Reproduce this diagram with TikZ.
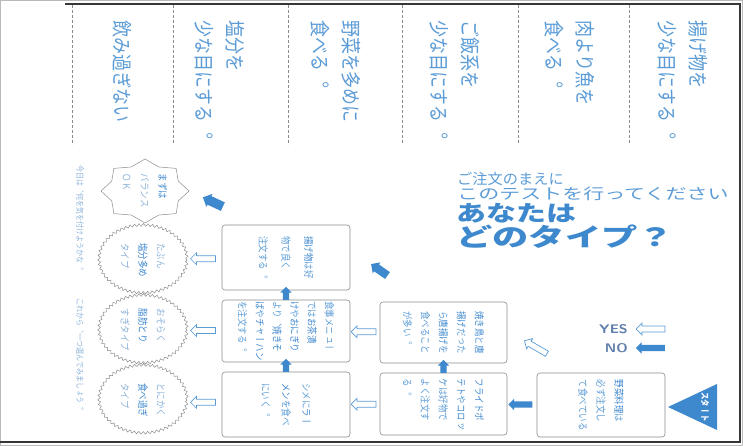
\documentclass[tikz,border=0pt]{standalone}
\usepackage{fontspec}
\usepackage{graphicx}
\usetikzlibrary{shapes.geometric,shapes.arrows,decorations.pathmorphing,calc}
\newfontfamily\cjk{Noto Sans CJK JP}
\newfontfamily\tate[Vertical=RotatedGlyphs]{Noto Sans CJK JP}
\definecolor{tblue}{RGB}{92,156,214}
\definecolor{dblue}{RGB}{62,136,206}
\definecolor{pblue}{RGB}{140,178,218}
\definecolor{lgray}{RGB}{140,140,140}
\definecolor{fgray}{RGB}{55,55,55}
\definecolor{legendc}{RGB}{95,125,170}
\begin{document}
\begin{tikzpicture}[x=1pt,y=-1pt,
  vbase/.style={rotate=-90,yscale=1.2,align=left,inner sep=0pt},
  vhead/.style={vbase,anchor=west,text=tblue,font=\tate\fontsize{17}{26}\selectfont},
  vbox/.style={vbase,text=tblue,font=\tate\fontsize{8.5}{#1}\selectfont},
  vbox/.default=15,
  vcirc/.style={vbase,text=pblue,font=\tate\fontsize{8.5}{15}\selectfont},
  vside/.style={vbase,anchor=west,text=pblue,font=\tate\fontsize{7}{7}\selectfont},
  ttl/.style={anchor=west,inner sep=0pt,xscale=#1},
  fbox/.style={draw=lgray,line width=0.6pt,rounded corners=3pt,minimum width=#1,inner sep=0pt},
  wavy/.style={ellipse,draw=lgray,line width=0.5pt,minimum width=88pt,minimum height=68pt,inner sep=0pt,
    decorate,decoration={snake,segment length=4.5pt,amplitude=1.3pt}},
  harrow/.style={single arrow,draw=tblue,fill=white,line width=0.7pt,minimum height=#1,
    inner xsep=0pt,inner ysep=2.6pt,single arrow head extend=3pt},
  farrow/.style={single arrow,fill=dblue,draw=none,minimum height=#1,
    inner xsep=0pt,inner ysep=3pt,single arrow head extend=2.5pt},
  divider/.style={lgray,densely dashed,line width=0.4pt}
]
\useasboundingbox (0,0) rectangle (743,446);
% frame
\draw[lgray!60,line width=0.5pt] (0.5,0.5) rectangle (742.5,445.5);
\draw[fgray,line width=1.4pt] (65,4) -- (740,4) -- (740,442) -- (0,442);
% header dividers
\foreach \x in {72,173,288,402,518,629} \draw[divider] (\x,5) -- (\x,145);
% header texts
\node[vhead] (h1) at (683,20) {揚げ物を\\少な目にする。};
\node[vhead] (h2) at (570,20) {肉より魚を\\食べる。};
\node[vhead] (h3) at (455,20) {ご飯系を\\少な目にする。};
\node[vhead] (h4) at (336,20) {野菜を多めに\\食べる。};
\node[vhead] (h5) at (220,20) {塩分を\\少な目にする。};
\node[vhead] (h6) at (122,20) {飲み過ぎない};
% side text
\node[vside] (s1) at (80,165) {今日は、何を気を付けようかな。};
\node[vside] (s2) at (80,298) {これから、一つ選んでみましょう。};
% title
\node[ttl=1.05,text=tblue,font=\cjk\fontsize{14.5}{14.5}\selectfont] (t1) at (457,179) {ご注文のまえに};
\node[ttl=1.4,text=tblue,font=\cjk\fontsize{15}{15}\selectfont] (t2) at (457,194) {このテストを行ってください};
\node[ttl=1.36,text=dblue,font=\cjk\bfseries\fontsize{22}{22}\selectfont] (t3) at (456,213) {あなたは};
\node[ttl=1.45,text=dblue,font=\cjk\bfseries\fontsize{25}{25}\selectfont] (t4) at (456,237) {どのタイプ？};
% star
\coordinate (sc) at (145,191);
\draw[lgray,line width=0.5pt] ($(sc)+(0:44 and 32)$)
  \foreach \i in {1,...,15}{ -- ($(sc)+({\i*22.5}:{mod(\i,2)==0 ? 44 : 36} and {mod(\i,2)==0 ? 32 : 26})$) } -- cycle;
\node[vcirc] (st) at (sc) {{\color{dblue}まずは}\\バランス\\ＯＫ};
% wavy circles
\node[wavy] (c1) at (143,260) {};
\node[wavy] (c2) at (143,330) {};
\node[wavy] (c3) at (143,400) {};
\node[vcirc] at (c1) {たぶん\\{\color{dblue}塩分多め}\\タイプ};
\node[vcirc] at (c2) {おそらく\\{\color{dblue}脂肪とり}\\すぎタイプ};
\node[vcirc] at (c3) {とにかく\\{\color{dblue}食べ過ぎ}\\タイプ};
% boxes
\node[fbox=128pt,minimum height=65pt] (A) at (286,257.5) {};
\node[fbox=128pt,minimum height=62pt] (B) at (286,331) {};
\node[fbox=128pt,minimum height=65pt] (C) at (286,404.5) {};
\node[fbox=127pt,minimum height=61pt] (D) at (443.5,332.5) {};
\node[fbox=127pt,minimum height=62pt] (E) at (443.5,404) {};
\node[fbox=128pt,minimum height=64pt] (F) at (601,405) {};
\node[vbox=19] at (A) {{\color{dblue}揚げ物}は好\\物で良く\\注文する。};
\node[vbox=14.5] at (B) {食事メニュー\\では{\color{dblue}お茶漬}\\{\color{dblue}け}や{\color{dblue}おにぎり}\\より、{\color{dblue}焼きそ}\\{\color{dblue}ば}や{\color{dblue}チャーハン}\\を注文する。};
\node[vbox=17] at (C) {シメに{\color{dblue}ラー}\\{\color{dblue}メン}を食べ\\にいく。};
\node[vbox=15] at (D) {{\color{dblue}焼き鳥}と{\color{dblue}唐}\\{\color{dblue}揚げ}だった\\ら{\color{dblue}唐揚げ}を\\食べること\\が多い。};
\node[vbox=15] at (E) {{\color{dblue}フライドポ}\\{\color{dblue}テト}や{\color{dblue}コロッ}\\{\color{dblue}ケ}は好物で\\よく注文す\\る。};
\node[vbox=15] at (F) {{\color{dblue}野菜料理}は\\必ず注文し\\て食べている};
% start
\fill[dblue] (668,407) -- (717,384) -- (717,430) -- cycle;
\node[vbase,text=white,font=\tate\bfseries\fontsize{7.5}{7.5}\selectfont] (start) at (705,407) {スタート};
% hollow (YES) arrows
\node[harrow=25pt,rotate=180] (y1) at ($(c1.east)!0.5!(A.west)$) {};
\node[harrow=25pt,rotate=180] (y2) at ($(c2.east)!0.5!(B.west)$) {};
\node[harrow=25pt,rotate=180] (y3) at ($(c3.east)!0.5!(C.west)$) {};
\node[harrow=25pt,rotate=180] (y4) at ($(B.east)!0.5!(D.west)$) {};
\node[harrow=25pt,rotate=180] (y5) at ($(C.east)!0.5!(E.west)$) {};
\node[harrow=26pt,rotate=150] (y6) at (537,348) {};
% filled (NO) arrows
\node[farrow=13pt,rotate=90] (n1) at ($(B.north)!0.5!(A.south)$) {};
\node[farrow=13pt,rotate=90] (n2) at ($(C.north)!0.5!(B.south)$) {};
\node[farrow=13pt,rotate=90] (n3) at ($(E.north)!0.5!(D.south)$) {};
\node[farrow=24pt,rotate=180] (n4) at ($(E.east)!0.5!(F.west)$) {};
\node[farrow=22pt,inner ysep=4.5pt,rotate=155] (n5) at (215,203) {};
\node[farrow=20pt,inner ysep=4pt,rotate=145] (n6) at (381,271) {};
% legend
\node[anchor=east,inner sep=0pt,xscale=1.15,text=legendc,font=\sffamily\bfseries\fontsize{12.5}{12.5}\selectfont] (yes) at (628,329) {YES};
\node[anchor=east,inner sep=0pt,xscale=1.15,text=legendc,font=\sffamily\bfseries\fontsize{12.5}{12.5}\selectfont] (no) at (628,348) {NO};
\node[harrow=29pt,rotate=180] (ly) at ($(yes.east)+(24,0)$) {};
\node[farrow=29pt,rotate=180] (ln) at ($(no.east)+(24,0)$) {};
\end{tikzpicture}
\end{document}
